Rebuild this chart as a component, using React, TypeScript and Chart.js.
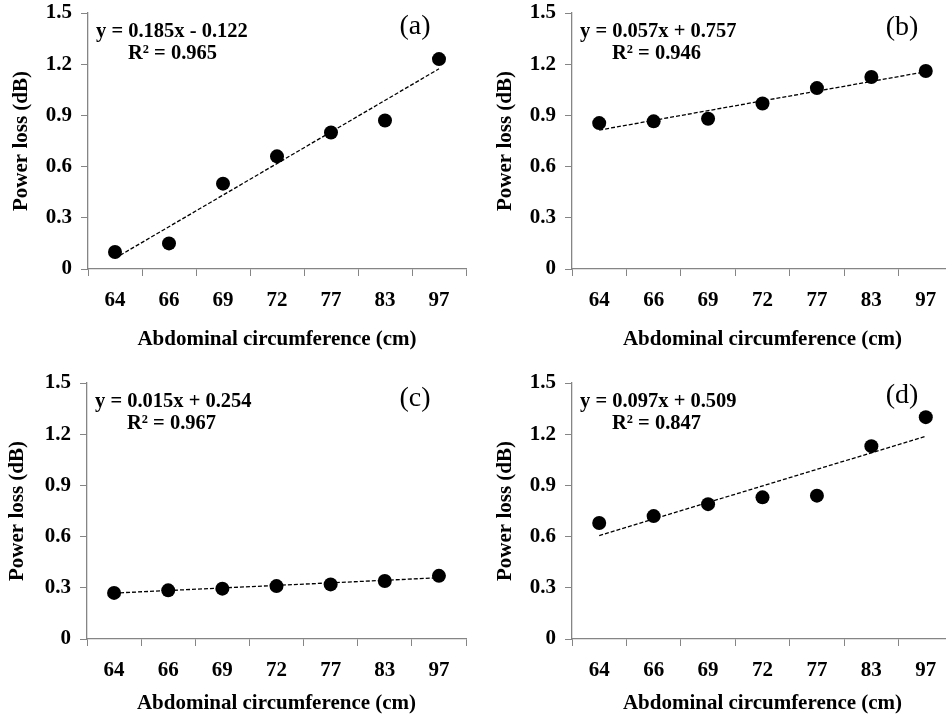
import React, { useEffect, useRef } from "react";
import { Chart, registerables } from "chart.js";

Chart.register(...registerables);

// ---- data ----
const categories = ["64", "66", "69", "72", "77", "83", "97"];
const lossA = [0.1, 0.15, 0.5, 0.66, 0.8, 0.87, 1.23];
const lossB = [0.855, 0.865, 0.88, 0.97, 1.06, 1.125, 1.16];
const lossC = [0.27, 0.285, 0.295, 0.31, 0.32, 0.34, 0.37];
const lossD = [0.68, 0.72, 0.79, 0.83, 0.84, 1.13, 1.3];
// trend line end values (first / last category)
const trendA = [0.063, 1.173];
const trendB = [0.814, 1.156];
const trendC = [0.269, 0.359];
const trendD = [0.606, 1.188];
const equations = ["y = 0.185x - 0.122", "y = 0.057x + 0.757", "y = 0.015x + 0.254", "y = 0.097x + 0.509"];
const r2Texts = ["R² = 0.965", "R² = 0.946", "R² = 0.967", "R² = 0.847"];
const panelLabels = ["(a)", "(b)", "(c)", "(d)"];
const yTickValues = [0, 0.3, 0.6, 0.9, 1.2, 1.5];
const yTickLabels = ["0", "0.3", "0.6", "0.9", "1.2", "1.5"];
const xTitle = "Abdominal circumference (cm)";
const yTitle = "Power loss (dB)";

const seriesList = [lossA, lossB, lossC, lossD];
const trendList = [trendA, trendB, trendC, trendD];

// ---- layout ----
const panels = [
  { left: 0, top: 0, w: 473, h: 361, area: { l: 88, r: 470, t: 13, b: 269 }, yPad: 9, xPad: 9, labelDy: 14 },
  { left: 473, top: 0, w: 490, h: 361, area: { l: 99, r: 480, t: 13, b: 269 }, yPad: 20, xPad: 9, labelDy: 15 },
  { left: 0, top: 361, w: 473, h: 362, area: { l: 87, r: 472, t: 22, b: 278 }, yPad: 5, xPad: 7, labelDy: 16 },
  { left: 473, top: 361, w: 490, h: 362, area: { l: 99, r: 480, t: 22, b: 278 }, yPad: 20, xPad: 7, labelDy: 13 },
];

const FONT = "'Liberation Serif', 'Times New Roman', serif";
const AXIS_GRAY = "#858585";

const textPlugin = {
  id: "panelText",
  afterDraw(chart: any, _args: any, opts: any) {
    const { ctx, chartArea } = chart;
    ctx.save();
    ctx.fillStyle = "#000";
    ctx.textBaseline = "middle";
    ctx.textAlign = "left";
    ctx.font = `bold 20.5px ${FONT}`;
    ctx.fillText(opts.eq, chartArea.left + 8, chartArea.top + 19);
    ctx.fillText(opts.r2, chartArea.left + 40, chartArea.top + 41);
    ctx.font = `28px ${FONT}`;
    ctx.textAlign = "center";
    ctx.fillText(opts.label, chartArea.right - 51, chartArea.top + opts.labelDy);
    ctx.restore();
  },
};

function Panel({ idx }: { idx: number }) {
  const ref = useRef<HTMLCanvasElement | null>(null);
  const p = panels[idx];
  useEffect(() => {
    if (!ref.current) return;
    const values = seriesList[idx];
    const trend = trendList[idx];
    const chart = new Chart(ref.current, {
      type: "line",
      data: {
        labels: categories,
        datasets: [
          {
            data: values,
            showLine: false,
            pointRadius: 7,
            pointHoverRadius: 7,
            pointBackgroundColor: "#000",
            pointBorderWidth: 0,
            borderColor: "#000",
          },
          {
            data: [
              { x: categories[0], y: trend[0] },
              { x: categories[categories.length - 1], y: trend[1] },
            ],
            borderColor: "#000",
            borderWidth: 1.3,
            borderDash: [4, 2],
            pointRadius: 0,
            fill: false,
          },
        ],
      } as any,
      options: {
        animation: false,
        responsive: false,
        maintainAspectRatio: false,
        events: [],
        layout: { padding: { left: 0, right: p.w - p.area.r, top: p.area.t, bottom: 0 } },
        plugins: {
          legend: { display: false },
          tooltip: { enabled: false },
          panelText: { eq: equations[idx], r2: r2Texts[idx], label: panelLabels[idx], labelDy: p.labelDy },
        } as any,
        scales: {
          x: {
            type: "category",
            offset: true,
            grid: { offset: true, drawOnChartArea: false, drawTicks: true, tickLength: 7, color: AXIS_GRAY, lineWidth: 1 },
            border: { display: true, color: AXIS_GRAY, width: 1.3 },
            ticks: { color: "#000", font: { family: FONT, size: 21, weight: "bold" }, padding: 12, maxRotation: 0, autoSkip: false },
            title: { display: true, text: xTitle, color: "#000", font: { family: FONT, size: 21, weight: "bold" }, padding: { top: 0, bottom: p.xPad } },
            afterFit: (s: any) => {
              s.height = p.h - p.area.b;
              s.paddingLeft = 0;
              s.paddingRight = 0;
            },
          },
          y: {
            type: "linear",
            min: 0,
            max: 1.5,
            afterBuildTicks: (s: any) => { s.ticks = yTickValues.map((v) => ({ value: v })); },
            grid: { drawOnChartArea: false, drawTicks: true, tickLength: 7, color: AXIS_GRAY, lineWidth: 1 },
            border: { display: true, color: AXIS_GRAY, width: 1.3 },
            ticks: {
              color: "#000",
              font: { family: FONT, size: 21, weight: "bold" },
              padding: 9,
              callback: (v: any) => {
                const i = yTickValues.findIndex((t) => Math.abs(t - Number(v)) < 1e-6);
                return i >= 0 ? yTickLabels[i] : "";
              },
            },
            title: { display: true, text: yTitle, color: "#000", font: { family: FONT, size: 21, weight: "bold" }, padding: { top: p.yPad, bottom: 0 } },
            afterFit: (s: any) => {
              s.width = p.area.l;
              s.paddingTop = 0;
              s.paddingBottom = 0;
            },
          },
        },
      } as any,
      plugins: [textPlugin],
    });
    return () => chart.destroy();
  }, [idx]);
  return (
    <canvas
      ref={ref}
      width={p.w}
      height={p.h}
      style={{ position: "absolute", left: p.left, top: p.top, width: p.w, height: p.h }}
    />
  );
}

export default function App() {
  return (
    <div style={{ position: "fixed", left: 0, top: 0, width: 946, height: 723, overflow: "hidden", background: "#fff" }}>
      {panels.map((_, i) => (
        <Panel key={i} idx={i} />
      ))}
    </div>
  );
}
